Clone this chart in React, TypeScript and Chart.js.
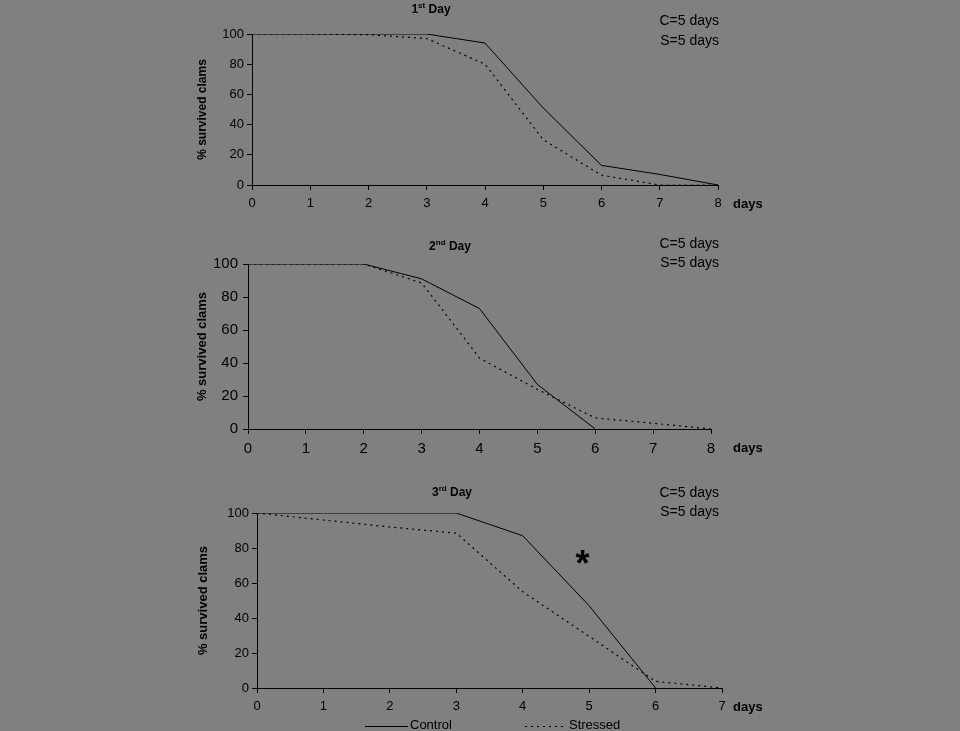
import React, { useEffect, useRef } from 'react';
import { Chart, registerables } from 'chart.js';
Chart.register(...registerables);

// ---------- data ----------
const days1 = [0, 1, 2, 3, 4, 5, 6, 7, 8];
const control1 = [100, 100, 100, 100, 94, 51, 13, 7, 0];
const stressed1 = [100, 100, 99.5, 97, 80, 30, 6.5, 0, 0];

const days2 = [0, 1, 2, 3, 4, 5, 6, 7, 8];
const control2 = [100, 100, 100, 91, 73, 27, 0];
const stressed2 = [100, 100, 100, 88.5, 43, 24, 6.7, 3.5, 0];

const days3 = [0, 1, 2, 3, 4, 5, 6, 7];
const control3 = [100, 100, 100, 100, 87, 47, 0];
const stressed3 = [100, 96, 92, 88.5, 55, 29.5, 3.8, 0];

const titleMain = ['1', '2', '3'];
const titleSup = ['st', 'nd', 'rd'];
const titleRest = ' Day';
const noteC = 'C=5 days';
const noteS = 'S=5 days';
const xUnit = 'days';
const yTitle = '% survived clams';
const seriesNames = ['Control', 'Stressed'];
const markTxt = '*';
const markAt = { x: 4.9, y: 74 };

const FONT = '"Liberation Sans", Arial, sans-serif';
const BG = '#808080';

type Panel = {
  top: number; height: number;
  days: number[]; control: number[]; stressed: number[]; xMax: number;
  padLeft: number; yWidth: number; padRight: number; padTop: number; xHeight: number;
  tickFont: number; yTitleFont: number; yTickPad: number;
  titleCx: number; titleY: number; noteRight: number; noteY1: number; noteY2: number;
  idx: number; legend: boolean; mark: boolean;
};

const panels: Panel[] = [
  { top: 0, height: 230, days: days1, control: control1, stressed: stressed1, xMax: 8,
    padLeft: 191, yWidth: 61, padRight: 242, padTop: 34, xHeight: 45,
    tickFont: 13, yTitleFont: 12, yTickPad: 3,
    titleCx: 431, titleY: 10, noteRight: 719, noteY1: 21, noteY2: 41, idx: 0, legend: false, mark: false },
  { top: 230, height: 240, days: days2, control: control2, stressed: stressed2, xMax: 8,
    padLeft: 191, yWidth: 57, padRight: 249, padTop: 34, xHeight: 41,
    tickFont: 15, yTitleFont: 13, yTickPad: 5,
    titleCx: 450, titleY: 17, noteRight: 719, noteY1: 14, noteY2: 33, idx: 1, legend: false, mark: false },
  { top: 470, height: 261, days: days3, control: control3, stressed: stressed3, xMax: 7,
    padLeft: 192, yWidth: 65, padRight: 238, padTop: 43, xHeight: 43,
    tickFont: 13, yTitleFont: 13, yTickPad: 3,
    titleCx: 452, titleY: 23, noteRight: 719, noteY1: 23, noteY2: 42, idx: 2, legend: true, mark: true },
];

function overlay(p: Panel) {
  return {
    id: 'overlay' + p.idx,
    afterDraw(chart: any) {
      const ctx = chart.ctx as CanvasRenderingContext2D;
      const area = chart.chartArea;
      ctx.save();
      ctx.fillStyle = '#000';
      // title with superscript
      ctx.textBaseline = 'middle';
      ctx.textAlign = 'left';
      const fMain = `bold 12px ${FONT}`;
      const fSup = `bold 8px ${FONT}`;
      ctx.font = fMain;
      const w1 = ctx.measureText(titleMain[p.idx]).width;
      const w3 = ctx.measureText(titleRest).width;
      ctx.font = fSup;
      const w2 = ctx.measureText(titleSup[p.idx]).width;
      let x = p.titleCx - (w1 + w2 + w3) / 2;
      ctx.font = fMain;
      ctx.fillText(titleMain[p.idx], x, p.titleY);
      x += w1;
      ctx.font = fSup;
      ctx.fillText(titleSup[p.idx], x, p.titleY - 4);
      x += w2;
      ctx.font = fMain;
      ctx.fillText(titleRest, x, p.titleY);
      // notes
      ctx.font = `14px ${FONT}`;
      ctx.textAlign = 'right';
      ctx.fillText(noteC, p.noteRight, p.noteY1);
      ctx.fillText(noteS, p.noteRight, p.noteY2);
      // x unit
      ctx.font = `bold 13px ${FONT}`;
      ctx.textAlign = 'left';
      const xs = chart.scales.x;
      const tickY = area.bottom + 19;
      ctx.fillText(xUnit, 733, tickY);
      // significance mark
      if (p.mark) {
        const ys = chart.scales.y;
        ctx.font = `bold 36px ${FONT}`;
        ctx.textAlign = 'center';
        ctx.fillText(markTxt, xs.getPixelForValue(markAt.x), ys.getPixelForValue(markAt.y) + 8);
      }
      // legend
      if (p.legend) {
        const ly = 256;
        ctx.strokeStyle = '#000';
        ctx.lineWidth = 1;
        ctx.beginPath();
        ctx.moveTo(365, ly + 0.5);
        ctx.lineTo(408, ly + 0.5);
        ctx.stroke();
        ctx.setLineDash([2, 4]);
        ctx.beginPath();
        ctx.moveTo(525, ly + 0.5);
        ctx.lineTo(566, ly + 0.5);
        ctx.stroke();
        ctx.setLineDash([]);
        ctx.font = `13px ${FONT}`;
        ctx.textAlign = 'left';
        ctx.fillText(seriesNames[0], 410, ly - 1);
        ctx.fillText(seriesNames[1], 569, ly - 1);
      }
      ctx.restore();
    },
  };
}

function PanelChart({ p }: { p: Panel }) {
  const ref = useRef<HTMLCanvasElement | null>(null);
  useEffect(() => {
    if (!ref.current) return;
    const ctrl = p.control.map((v, i) => ({ x: p.days[i], y: v }));
    const str = p.stressed.map((v, i) => ({ x: p.days[i], y: v }));
    const chart = new Chart(ref.current, {
      type: 'line',
      data: {
        datasets: [
          { label: seriesNames[0], data: ctrl, borderColor: '#000', borderWidth: 1, pointRadius: 0, tension: 0, fill: false },
          { label: seriesNames[1], data: str, borderColor: '#000', borderWidth: 1.2, borderDash: [2, 4], pointRadius: 0, tension: 0, fill: false },
        ],
      },
      options: {
        animation: false,
        responsive: false,
        devicePixelRatio: 1,
        events: [],
        layout: { padding: { left: p.padLeft, right: p.padRight, top: p.padTop, bottom: 0 } },
        plugins: { legend: { display: false }, tooltip: { enabled: false }, title: { display: false } },
        scales: {
          x: {
            type: 'linear', min: 0, max: p.xMax,
            ticks: { stepSize: 1, color: '#000', font: { family: FONT, size: p.tickFont }, padding: 6, maxRotation: 0 },
            grid: { drawOnChartArea: false, drawTicks: true, tickLength: 5, color: '#000' },
            border: { color: '#000', width: 1 },
            afterFit: (s: any) => { s.height = p.xHeight; },
          },
          y: {
            type: 'linear', min: 0, max: 100,
            ticks: { stepSize: 20, color: '#000', font: { family: FONT, size: p.tickFont }, padding: p.yTickPad },
            grid: { drawOnChartArea: false, drawTicks: true, tickLength: 5, color: '#000' },
            border: { color: '#000', width: 1 },
            title: { display: true, text: yTitle, color: '#000', font: { family: FONT, size: p.yTitleFont, weight: 'bold' }, padding: { top: 4, bottom: 4 } },
            afterFit: (s: any) => { s.width = p.yWidth; },
          },
        },
      } as any,
      plugins: [overlay(p)],
    });
    return () => chart.destroy();
  }, [p]);
  return (
    <canvas
      ref={ref}
      width={960}
      height={p.height}
      style={{ position: 'absolute', left: 0, top: p.top, width: 960, height: p.height, display: 'block' }}
    />
  );
}

export default function App() {
  useEffect(() => {
    document.body.style.margin = '0';
    document.body.style.background = BG;
  }, []);
  return (
    <div style={{ position: 'relative', width: 960, height: 731, background: BG, overflow: 'hidden' }}>
      {panels.map((p) => (
        <PanelChart key={p.idx} p={p} />
      ))}
    </div>
  );
}
